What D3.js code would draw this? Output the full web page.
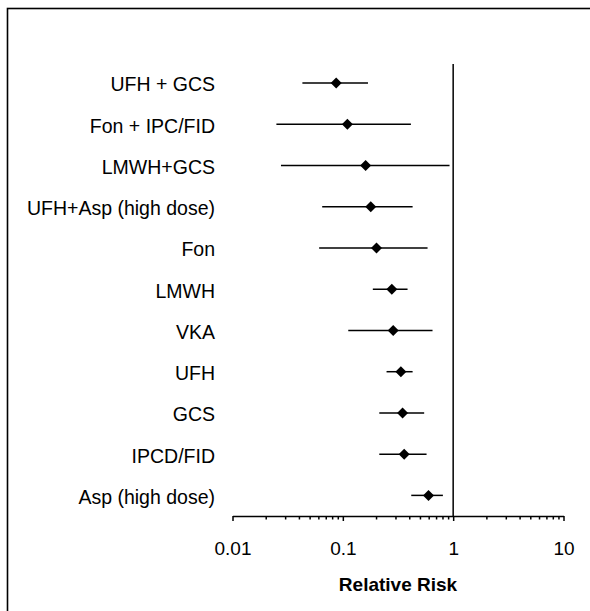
<!DOCTYPE html>
<html>
<head>
<meta charset="utf-8">
<script src="https://cdn.jsdelivr.net/npm/d3@7"></script>
<style>
  html, body { margin: 0; padding: 0; background: #fff; }
  svg { display: block; font-family: "Liberation Sans", Arial, sans-serif; }
</style>
</head>
<body>
<svg id="chart" width="590" height="611"></svg>
<script>
// Treatments, top to bottom
const treatments = [
  "UFH + GCS", "Fon + IPC/FID", "LMWH+GCS", "UFH+Asp (high dose)", "Fon",
  "LMWH", "VKA", "UFH", "GCS", "IPCD/FID", "Asp (high dose)"
];
// Relative risk point estimates
const relativeRisk = [0.087, 0.110, 0.161, 0.179, 0.202, 0.278, 0.286, 0.336, 0.348, 0.360, 0.598];
// 95% confidence bounds
const ciLower = [0.043, 0.025, 0.0275, 0.065, 0.061, 0.187, 0.112, 0.249, 0.214, 0.214, 0.417];
const ciUpper = [0.169, 0.414, 0.927, 0.429, 0.586, 0.386, 0.650, 0.429, 0.546, 0.574, 0.807];
// Axis ticks
const majorTicks = [0.01, 0.1, 1, 10];
const tickLabels = ["0.01", "0.1", "1", "10"];
const minorTicks = [];
[0.01, 0.1, 1].forEach(d => { for (let k = 2; k <= 9; k++) minorTicks.push(+(d * k).toPrecision(3)); });

const rows = treatments.map((t, i) => ({
  name: t, rr: relativeRisk[i], lo: ciLower[i], hi: ciUpper[i]
}));

const svg = d3.select("#chart");
const plot = { left: 232.5, right: 563.5, top: 62.5, bottom: 516 };
const fontSize = 19.5;

// Outer frame (runs off the right and bottom edges)
svg.append("rect")
  .attr("x", 7.5).attr("y", 8.5)
  .attr("width", 620).attr("height", 640)
  .attr("fill", "none").attr("stroke", "#000").attr("stroke-width", 1.6);

const x = d3.scaleLog().domain([0.01, 10]).range([plot.left, plot.right]);
const y = d3.scaleBand().domain(treatments).range([plot.top, plot.bottom]).padding(0);
const cy = d => y(d) + y.bandwidth() / 2;

// Reference line at RR = 1
svg.append("line")
  .attr("x1", x(1)).attr("x2", x(1))
  .attr("y1", plot.top + 1.5).attr("y2", plot.bottom)
  .attr("stroke", "#000").attr("stroke-width", 1.5);

// Minor ticks
svg.append("g")
  .attr("transform", `translate(0,${plot.bottom})`)
  .call(d3.axisBottom(x).tickValues(minorTicks).tickSize(3.5).tickFormat(""))
  .call(g => g.select(".domain").remove())
  .call(g => g.selectAll(".tick line").attr("stroke", "#000").attr("stroke-width", 1.5));

// Major ticks and labels
svg.append("g")
  .attr("transform", `translate(0,${plot.bottom})`)
  .call(d3.axisBottom(x).tickValues(majorTicks).tickSize(5).tickSizeOuter(0).tickPadding(21)
    .tickFormat((d, i) => tickLabels[i]))
  .call(g => g.select(".domain").attr("stroke", "#000").attr("stroke-width", 1.5))
  .call(g => g.selectAll(".tick line").attr("stroke", "#000").attr("stroke-width", 1.5))
  .call(g => g.selectAll(".tick text")
    .attr("fill", "#000")
    .style("font-family", "'Liberation Sans', Arial, sans-serif")
    .style("font-size", "19px"));

// Axis title
svg.append("text")
  .attr("x", (plot.left + plot.right) / 2)
  .attr("y", 590.5)
  .attr("text-anchor", "middle")
  .style("font-size", "19px")
  .style("font-weight", "bold")
  .text("Relative Risk");

// Confidence intervals
svg.append("g").selectAll("line")
  .data(rows).join("line")
  .attr("x1", d => x(d.lo)).attr("x2", d => x(d.hi))
  .attr("y1", d => cy(d.name)).attr("y2", d => cy(d.name))
  .attr("stroke", "#000").attr("stroke-width", 1.5);

// Point estimates as diamonds
svg.append("g").selectAll("path")
  .data(rows).join("path")
  .attr("transform", d => `translate(${x(d.rr)},${cy(d.name)})`)
  .attr("d", "M0,-5.5L5.5,0L0,5.5L-5.5,0Z")
  .attr("fill", "#000");

// Row labels
svg.append("g").selectAll("text")
  .data(rows).join("text")
  .attr("x", 215)
  .attr("y", d => cy(d.name))
  .attr("dy", "0.43em")
  .attr("text-anchor", "end")
  .style("font-size", fontSize + "px")
  .attr("fill", "#000")
  .text(d => d.name);
</script>
</body>
</html>
